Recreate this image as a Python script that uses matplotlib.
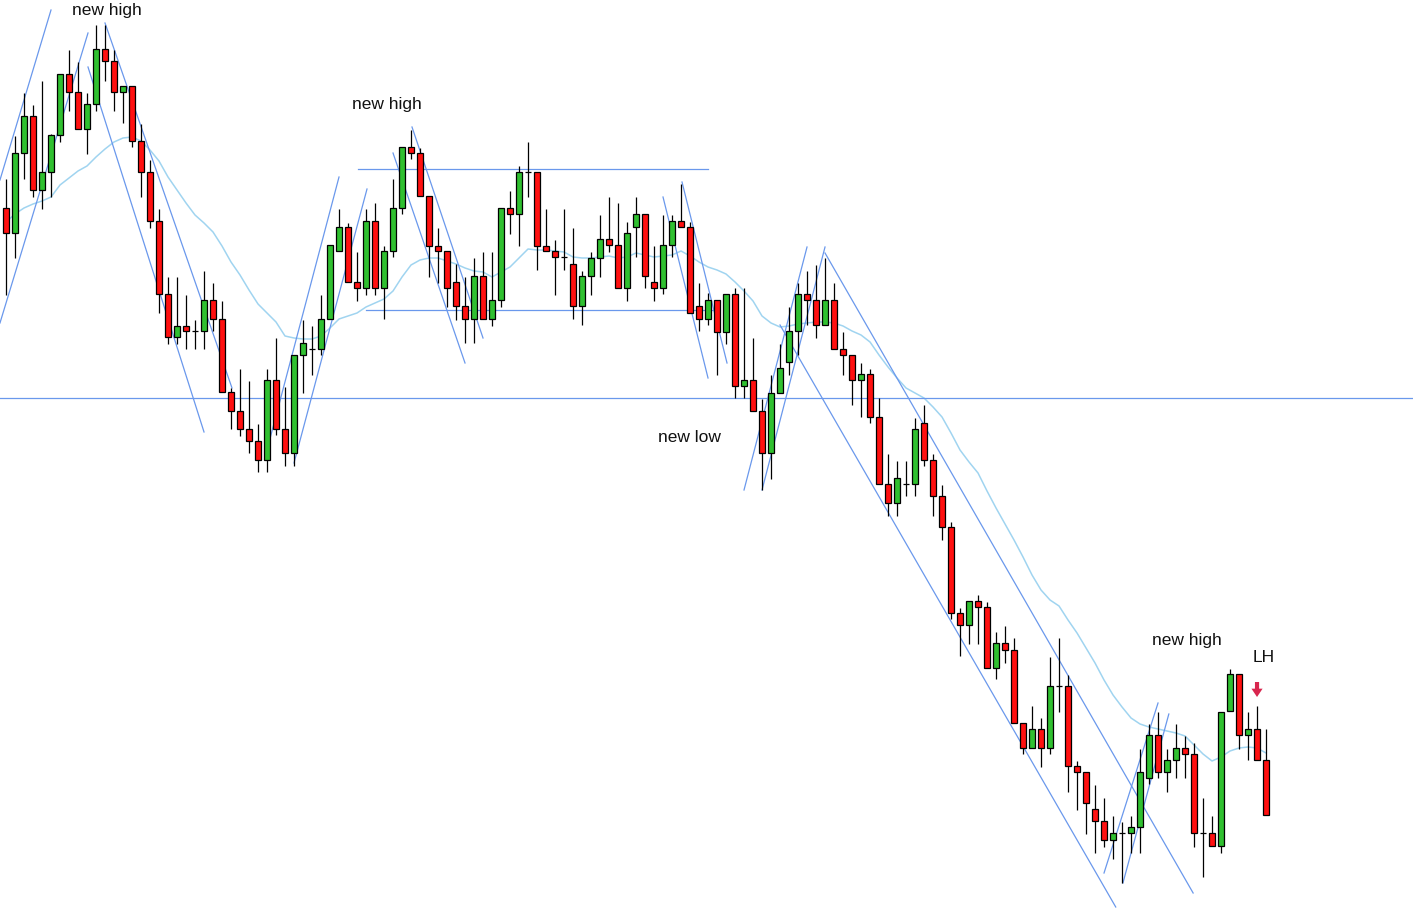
import matplotlib
matplotlib.use("Agg")
import matplotlib.pyplot as plt
import numpy as np

# ---- price data (arbitrary points scale), one entry per bar ----
opens = [792, 767, 847, 884, 810, 828, 865, 926, 908, 871,
         896, 951, 939, 908, 914, 859, 828, 779, 706, 663,
         674, 669, 669, 700, 681, 608, 589, 571, 559, 540,
         620, 571, 547, 645, 651, 651, 681, 749, 773, 718,
         712, 779, 712, 749, 792, 853, 847, 804, 754, 749,
         718, 694, 681, 724, 681, 700, 792, 786, 828, 828,
         754, 749, 743, 736, 694, 724, 742, 761, 755, 712,
         773, 786, 718, 712, 755, 779, 773, 694, 681, 700,
         668, 706, 614, 620, 589, 547, 607, 638, 669, 706,
         700, 675, 700, 651, 645, 620, 626, 583, 516, 497,
         516, 516, 577, 540, 504, 473, 387, 375, 399, 393,
         332, 357, 350, 277, 252, 271, 252, 314, 314, 234,
         228, 191, 179, 160, 167, 167, 173, 222, 265, 228,
         240, 252, 246, 167, 167, 154, 289, 326, 265, 271,
         240]
highs = [821, 864, 907, 895, 919, 866, 926, 950, 938, 907,
         975, 975, 950, 914, 914, 876, 840, 791, 723, 723,
         705, 680, 729, 717, 699, 612, 631, 619, 576, 631,
         662, 613, 645, 680, 674, 705, 755, 791, 777, 748,
         791, 797, 754, 821, 853, 870, 852, 804, 772, 749,
         736, 723, 742, 748, 748, 792, 809, 834, 858, 828,
         791, 760, 791, 772, 729, 748, 785, 803, 797, 778,
         803, 786, 754, 785, 785, 816, 778, 717, 707, 700,
         706, 712, 712, 662, 601, 625, 656, 693, 717, 729,
         735, 742, 717, 668, 645, 637, 631, 602, 546, 539,
         539, 582, 595, 546, 515, 478, 392, 399, 405, 398,
         368, 374, 362, 277, 294, 282, 343, 362, 325, 239,
         228, 215, 202, 184, 178, 184, 251, 276, 288, 251,
         276, 264, 257, 202, 184, 288, 331, 326, 288, 294,
         271]
lows = [705, 742, 821, 803, 791, 803, 858, 889, 871, 846,
        889, 919, 889, 877, 853, 803, 772, 687, 656, 656,
        651, 651, 651, 669, 608, 571, 564, 547, 528, 528,
        565, 534, 534, 607, 625, 645, 681, 749, 718, 699,
        705, 705, 681, 743, 786, 841, 804, 723, 717, 693,
        680, 657, 657, 681, 674, 693, 766, 754, 803, 730,
        749, 705, 730, 681, 675, 705, 723, 748, 712, 699,
        743, 712, 699, 706, 743, 773, 687, 669, 675, 625,
        656, 602, 602, 589, 510, 521, 607, 625, 645, 675,
        662, 675, 651, 625, 595, 583, 577, 516, 484, 484,
        504, 504, 534, 484, 460, 381, 344, 356, 356, 332,
        321, 337, 277, 246, 252, 233, 246, 288, 208, 190,
        166, 147, 153, 141, 117, 147, 147, 216, 222, 208,
        222, 222, 153, 123, 154, 147, 289, 251, 240, 240,
        185]
closes = [767, 847, 884, 810, 828, 865, 926, 908, 871, 896,
          951, 939, 908, 914, 859, 828, 779, 706, 663, 674,
          669, 669, 700, 681, 608, 589, 571, 559, 540, 620,
          571, 547, 645, 657, 651, 681, 755, 773, 718, 712,
          779, 712, 749, 792, 853, 847, 804, 754, 749, 712,
          694, 681, 724, 681, 700, 792, 786, 828, 828, 754,
          749, 743, 743, 694, 724, 742, 761, 755, 712, 767,
          786, 724, 712, 755, 779, 773, 687, 681, 700, 668,
          706, 614, 620, 589, 547, 607, 632, 669, 706, 700,
          675, 700, 651, 645, 620, 626, 583, 516, 497, 522,
          516, 571, 540, 504, 473, 387, 375, 399, 393, 332,
          357, 350, 277, 252, 271, 252, 314, 314, 234, 228,
          197, 179, 160, 167, 167, 173, 228, 265, 228, 240,
          252, 246, 167, 167, 154, 288, 326, 265, 271, 240,
          185]
# moving average plotted with the bars
ma = [778, 786, 792, 796, 799, 803, 815, 822, 829, 834,
      843, 851, 858, 862, 863, 859, 850, 839, 823, 810,
      797, 785, 777, 768, 754, 738, 725, 710, 696, 687,
      678, 664, 662, 661, 661, 664, 672, 681, 684, 687,
      693, 697, 701, 709, 723, 735, 740, 742, 742, 739,
      736, 732, 729, 728, 723, 728, 733, 742, 751, 750,
      750, 749, 748, 743, 742, 742, 743, 744, 742, 743,
      747, 745, 743, 744, 745, 749, 744, 738, 733, 730,
      726, 718, 709, 699, 684, 677, 673, 674, 676, 677,
      678, 678, 677, 674, 669, 665, 658, 645, 633, 622,
      612, 607, 602, 593, 583, 567, 550, 538, 527, 509,
      492, 476, 460, 443, 425, 410, 400, 394, 380, 367,
      352, 337, 320, 305, 293, 282, 276, 273, 271, 269,
      267, 264, 255, 246, 239, 243, 249, 252, 253, 252,
      247]

# trend lines: (bar_start, price_start, bar_end, price_end)
trend_lines = [
    (-0.67, 820, 5.0, 990),
    (-0.67, 677, 9.11, 967),
    (9.11, 933, 22.0, 568),
    (11.0, 977, 25.11, 612),
    (29.0, 550, 37.0, 823),
    (32.0, 537, 40.11, 811),
    (43.0, 847, 51.0, 637),
    (45.11, 873, 53.0, 662),
    (73.0, 803, 78.0, 622),
    (75.11, 818, 80.11, 637),
    (82.0, 510, 89.0, 753),
    (84.0, 510, 91.0, 753),
    (91.0, 747, 131.9, 107),
    (86.0, 675, 123.3, 93),
    (122.0, 127, 128.0, 297),
    (124.1, 117, 129.2, 286),
]
# horizontal levels: (bar_start, bar_end, price)
range_levels = [(39.11, 78.0, 831), (40.0, 79.0, 690)]
support_level = 602

labels = [
    ("new high", 11.2, 989),
    ("new high", 42.3, 896),
    ("new low", 75.9, 562),
    ("new high", 131.2, 360),
    ("LH", 139.7, 343),
]

UP = "#30c030"
DOWN = "#ff1010"
LINE = "#6a98ec"
MA_COLOR = "#a0d4f0"

fig = plt.figure(figsize=(14.13, 9.11), dpi=100)
ax = fig.add_axes([0, 0, 1, 1])
ax.set_xlim(-0.667, 156.33)
ax.set_ylim(89, 1000)
ax.axis("off")

o = np.array(opens, float)
h = np.array(highs, float)
l = np.array(lows, float)
c = np.array(closes, float)
x = np.arange(len(o))

# moving average
ax.plot(x, ma, color=MA_COLOR, lw=1.1, zorder=1)

# trend lines and levels
for x0, y0, x1, y1 in trend_lines:
    ax.plot([x0, x1], [y0, y1], color=LINE, lw=0.9, zorder=2)
for x0, x1, y in range_levels:
    ax.plot([x0, x1], [y, y], color=LINE, lw=0.9, zorder=2)
ax.axhline(support_level, color=LINE, lw=0.9, zorder=2)

# candles
ax.vlines(x, l, h, color="black", lw=0.9, zorder=3)
body_w = 0.6
up = c > o
down = c < o
flat = c == o
ax.bar(x[up], (c - o)[up], bottom=o[up], width=body_w, color=UP,
       edgecolor="black", linewidth=0.9, zorder=4)
ax.bar(x[down], (o - c)[down], bottom=c[down], width=body_w, color=DOWN,
       edgecolor="black", linewidth=0.9, zorder=4)
ax.hlines(o[flat], x[flat] - body_w / 2, x[flat] + body_w / 2,
          color="black", lw=0.9, zorder=4)

for txt, tx, ty in labels:
    ax.text(tx, ty, txt, ha="center", va="center", fontsize=12.5,
            family=["Liberation Sans", "DejaVu Sans"], color="#111111", zorder=5)

# lower-high marker
ax.annotate("", xy=(139.0, 303), xytext=(139.0, 318),
            arrowprops=dict(arrowstyle="simple,head_width=0.8,head_length=0.6,tail_width=0.3",
                            color="#d8264e", lw=0, mutation_scale=10,
                            shrinkA=0, shrinkB=0),
            zorder=5)

fig.savefig("out.png", dpi=100, facecolor="white")
